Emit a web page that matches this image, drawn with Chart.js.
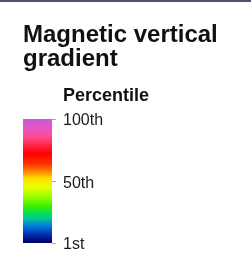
<!DOCTYPE html>
<html>
<head>
<meta charset="utf-8">
<script src="https://cdn.jsdelivr.net/npm/chart.js@4"></script>
<style>
  html, body { margin: 0; padding: 0; background: #fff; }
  canvas { display: block; }
</style>
</head>
<body>
<canvas id="legendChart" width="251" height="260"></canvas>
<script>
// data
const categories = ['Percentile'];
const percentileRange = [1, 100];
const tickValues = [1, 50, 100];
const tickLabels = ['1st', '50th', '100th'];

// colour ramp, bottom (0) to top (1)
const rampStops = [
	[0.00, '#000060'],
	[0.07, '#0030b0'],
	[0.14, '#0080e0'],
	[0.20, '#00c890'],
	[0.24, '#00e050'],
	[0.30, '#40f000'],
	[0.38, '#a0ff00'],
	[0.45, '#e8ff00'],
	[0.52, '#ffe000'],
	[0.58, '#ff8000'],
	[0.64, '#ff3000'],
	[0.72, '#ff0000'],
	[0.78, '#ff2040'],
	[0.85, '#ff4a8a'],
	[0.92, '#e855c0'],
	[1.00, '#c65ad8']
];

function rampFill(context) {
	const chart = context.chart;
	const area = chart.chartArea;
	if (!area) {
		return '#ff0000';
	}
	const g = chart.ctx.createLinearGradient(0, area.bottom, 0, area.top);
	rampStops.forEach(s => g.addColorStop(s[0], s[1]));
	return g;
}

// top border line + "Percentile" heading
const decorations = {
	id: 'decorations',
	beforeDraw(chart) {
		const ctx = chart.ctx;
		ctx.save();
		ctx.fillStyle = '#ffffff';
		ctx.fillRect(0, 0, chart.width, chart.height);
		ctx.fillStyle = '#4b5275';
		ctx.fillRect(0, 0, chart.width, 2);
		ctx.restore();
	},
	afterDraw(chart) {
		const ctx = chart.ctx;
		const y = chart.scales.y;
		ctx.save();
		ctx.fillStyle = '#111111';
		ctx.font = 'bold 18px "Liberation Sans", Arial, sans-serif';
		ctx.textBaseline = 'alphabetic';
		ctx.textAlign = 'left';
		ctx.fillText('Percentile', y.left + 11, 101);
		ctx.restore();
	}
};

const data = {
	labels: categories,
	datasets: [{
		data: [percentileRange],
		backgroundColor: rampFill,
		borderWidth: 0,
		barPercentage: 1,
		categoryPercentage: 1
	}]
};

const config = {
	type: 'bar',
	data: data,
	plugins: [decorations],
	options: {
		responsive: false,
		animation: false,
		devicePixelRatio: 1,
		layout: {
			padding: { left: 23, right: 0, top: 0, bottom: 17 }
		},
		plugins: {
			legend: { display: false },
			tooltip: { enabled: false },
			title: {
				display: true,
				text: ['Magnetic vertical', 'gradient'],
				align: 'start',
				color: '#111111',
				font: { family: '"Liberation Sans", Arial, sans-serif', size: 24, weight: 'bold', lineHeight: 1.0 },
				padding: { top: 23, bottom: 48 }
			}
		},
		scales: {
			x: {
				display: false
			},
			y: {
				position: 'right',
				min: percentileRange[0],
				max: percentileRange[1],
				afterBuildTicks: function (scale) {
					scale.ticks = tickValues.map(v => ({ value: v }));
				},
				afterFit: function (scale) {
					scale.width = 199;
				},
				border: { display: false },
				grid: {
					drawOnChartArea: false,
					drawTicks: true,
					tickLength: 4,
					color: '#aaaaaa'
				},
				ticks: {
					padding: 7,
					labelOffset: 2,
					color: '#1a1a1a',
					font: { family: '"Liberation Sans", Arial, sans-serif', size: 16 },
					callback: function (value) {
						const i = tickValues.indexOf(value);
						return i >= 0 ? tickLabels[i] : '';
					}
				}
			}
		}
	}
};

const ctx = document.getElementById('legendChart').getContext('2d');
new Chart(ctx, config);
</script>
</body>
</html>
